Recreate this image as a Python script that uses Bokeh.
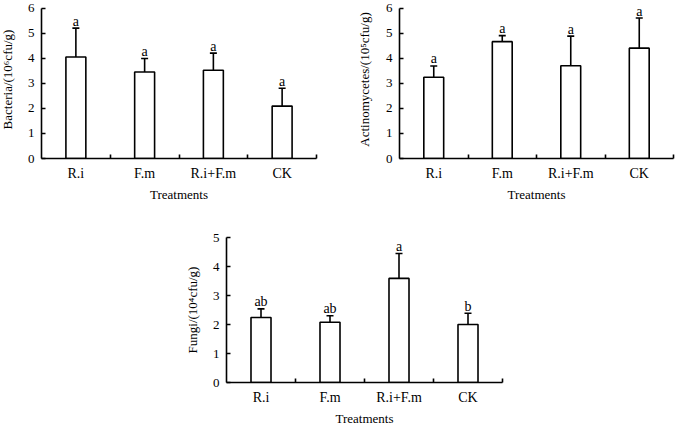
from bokeh.plotting import figure
from bokeh.layouts import column, row
from bokeh.models import FixedTicker, ColumnDataSource, Spacer
from bokeh.core.properties import value
from bokeh.embed import file_html
from bokeh.resources import INLINE

categories = ["R.i", "F.m", "R.i+F.m", "CK"]

bacteria_mean = [4.05, 3.45, 3.52, 2.09]
bacteria_err = [1.15, 0.54, 0.68, 0.71]
bacteria_letters = ["a", "a", "a", "a"]

actino_mean = [3.24, 4.66, 3.70, 4.40]
actino_err = [0.45, 0.24, 1.18, 1.20]
actino_letters = ["a", "a", "a", "a"]

fungi_mean = [2.24, 2.08, 3.59, 2.00]
fungi_err = [0.30, 0.22, 0.86, 0.39]
fungi_letters = ["ab", "ab", "a", "b"]

FONT = "Liberation Serif"


def make_panel(means, errs, letters, ylabel, ymax, yend, width, height,
               bl, br, bt, bb, ylabel_standoff):
    n = len(categories)
    xs = [i + 0.5 for i in range(n)]
    tops = [m + e for m, e in zip(means, errs)]
    src = ColumnDataSource(dict(x=xs, mean=means, top=tops, letter=letters))
    p = figure(width=width, height=height, x_range=(0, n), y_range=(0, yend),
               output_backend="svg", toolbar_location=None,
               min_border_left=bl, min_border_right=br,
               min_border_top=bt, min_border_bottom=bb)
    p.outline_line_color = None
    p.grid.visible = False
    p.background_fill_color = "white"
    p.border_fill_color = "white"

    p.vbar(x="x", top="mean", width=0.29, bottom=0, source=src,
           fill_color="white", line_color="black", line_width=1.6)
    p.segment(x0="x", y0="mean", x1="x", y1="top", source=src,
              line_color="black", line_width=1.6)
    p.scatter(x="x", y="top", source=src, marker="dash", size=7,
              line_color="black", line_width=1.6)
    p.text(x="x", y="top", text="letter", source=src,
           text_font=value(FONT), text_font_size="14px", text_color="black",
           text_align="center", text_baseline="alphabetic", y_offset=-7)

    xa = p.xaxis[0]
    xa.ticker = FixedTicker(ticks=xs, minor_ticks=list(range(1, n + 1)))
    xa.major_label_overrides = {x: c for x, c in zip(xs, categories)}
    xa.major_tick_in = 0
    xa.major_tick_out = 0
    xa.minor_tick_in = 4
    xa.minor_tick_out = 0
    xa.minor_tick_line_color = "black"
    xa.minor_tick_line_width = 1.6
    xa.axis_line_width = 1.6
    xa.axis_line_color = "black"
    xa.major_label_text_font = FONT
    xa.major_label_text_font_size = "14px"
    xa.major_label_text_color = "black"
    xa.major_label_standoff = 7
    xa.axis_label = "Treatments"
    xa.axis_label_text_font = FONT
    xa.axis_label_text_font_size = "13px"
    xa.axis_label_text_font_style = "normal"
    xa.axis_label_text_color = "black"
    xa.axis_label_standoff = 3

    ya = p.yaxis[0]
    ya.ticker = FixedTicker(ticks=list(range(0, ymax + 1)))
    ya.bounds = (0, ymax)
    ya.major_tick_in = 4
    ya.major_tick_out = 0
    ya.minor_tick_line_color = None
    ya.major_tick_line_width = 1.6
    ya.axis_line_width = 1.6
    ya.axis_line_color = "black"
    ya.major_label_text_font = FONT
    ya.major_label_text_font_size = "13px"
    ya.major_label_text_color = "black"
    ya.major_label_standoff = 7
    ya.axis_label = ylabel
    ya.axis_label_text_font = FONT
    ya.axis_label_text_font_size = "13px"
    ya.axis_label_text_font_style = "normal"
    ya.axis_label_text_color = "black"
    ya.axis_label_standoff = ylabel_standoff
    return p


p1 = make_panel(bacteria_mean, bacteria_err, bacteria_letters,
                "Bacteria/(10\u2076cfu/g)", 6, 6.3, 340, 215, 46, 19, 0, 57, 10)
p1.styles = {"margin-left": "-5px"}
p2 = make_panel(actino_mean, actino_err, actino_letters,
                "Actinomycetes/(10\u2075cfu/g)", 6, 6.3, 340, 215, 64, 2, 0, 56, 11)
p3 = make_panel(fungi_mean, fungi_err, fungi_letters,
                "Fungi/(10\u2074cfu/g)", 5, 5, 340, 213, 46, 18, 22, 45, 10)

layout = column(row(p1, p2), row(Spacer(width=180, height=213), p3))

open("out.html", "w").write(file_html(layout, INLINE))
